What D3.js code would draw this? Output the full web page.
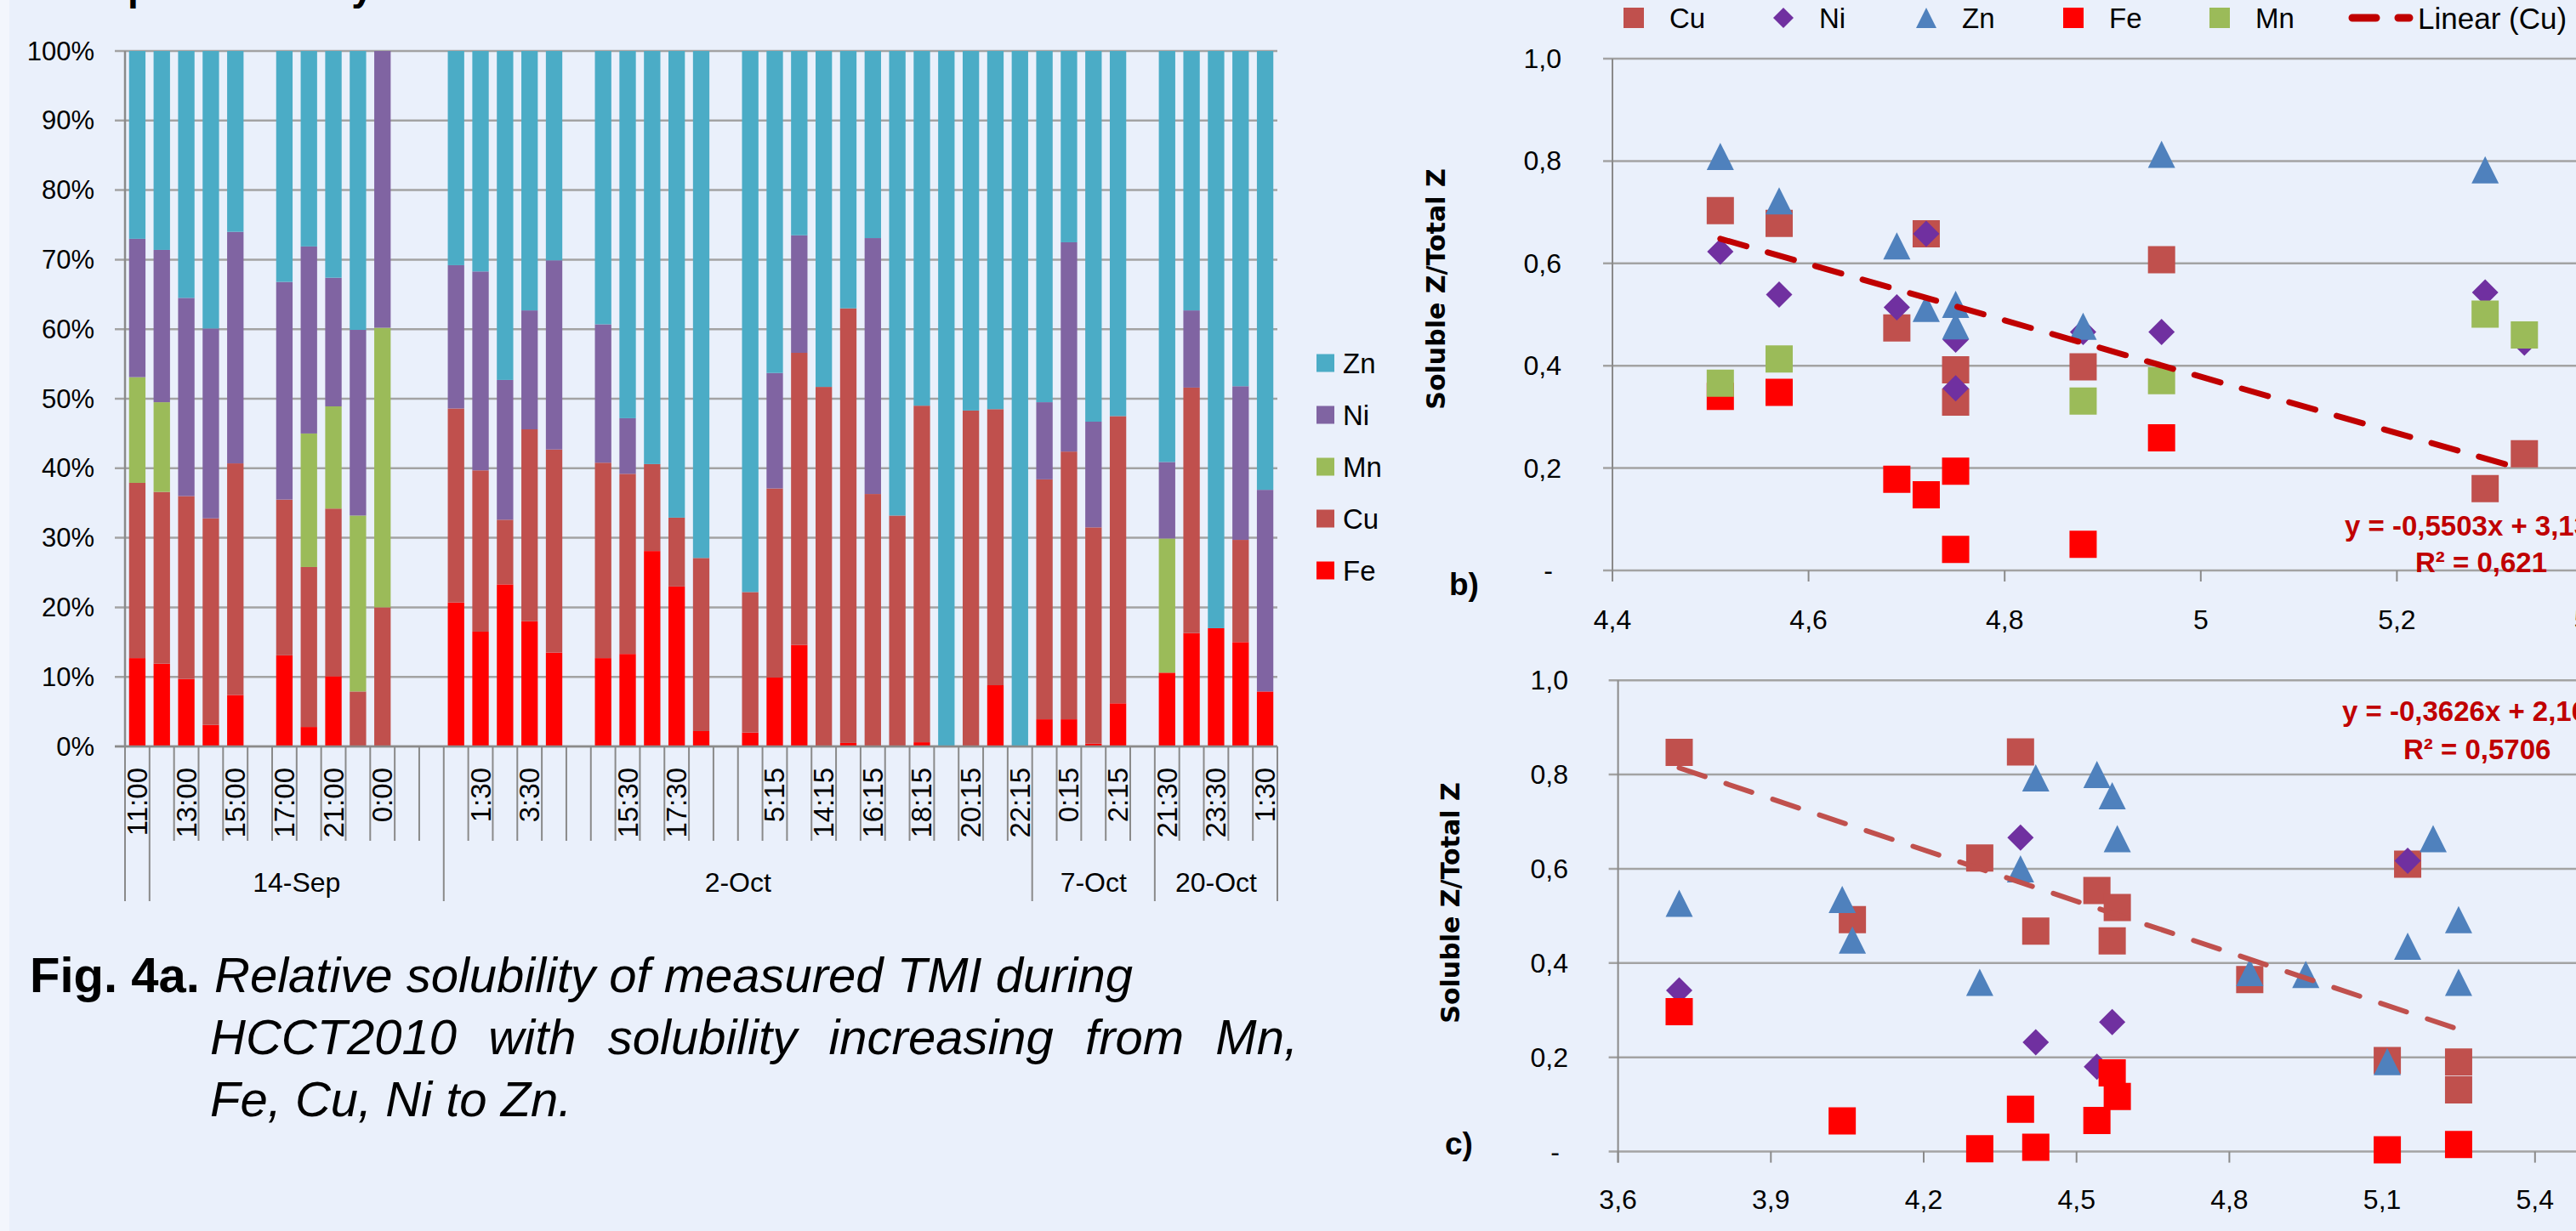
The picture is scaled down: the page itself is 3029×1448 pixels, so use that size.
<!DOCTYPE html>
<html>
<head>
<meta charset="utf-8">
<title>Relative solubility of TMI</title>
<script src="https://cdn.jsdelivr.net/npm/d3@7"></script>
<style>
  html, body { margin: 0; overflow: hidden; background: #eaf0fb; }
  svg { display: block; }
  text { font-family: "Liberation Sans", Arial, sans-serif; fill: #000; }
</style>
</head>
<body>
<svg id="fig" width="3029" height="1448"></svg>
<script>
// ---------- panel a: 100% stacked bars, one entry per category slot (null = empty slot)
var times = ["11:00","","13:00","","15:00","","17:00","","21:00","","0:00","","",
  "","1:30","","3:30","","","","15:30","","17:30","","","","5:15","","14:15","",
  "16:15","","18:15","","20:15","","22:15","","0:15","","2:15","","21:30","","23:30","","1:30"];
var dateLabels = ["", "14-Sep", "2-Oct", "7-Oct", "20-Oct"];
var dateSpans = [1, 12, 24, 5, 5];

var fe = [12.7,11.9,9.7,3.1,7.4,null,13.1,2.8,10.1,0,0,null,null,20.7,16.5,23.3,18.0,13.5,null,
  12.7,13.3,28.1,23.0,2.2,null,2.0,9.9,14.6,0,0.5,0,0,0.6,0,0,8.8,0,3.9,3.9,0.4,6.2,null,
  10.6,16.3,17.0,15.0,7.9];
var cu = [25.2,24.7,26.3,29.7,33.3,null,22.4,23.0,24.1,7.9,20.0,null,null,27.9,23.2,9.3,27.6,29.2,null,
  28.1,25.9,12.5,9.9,24.9,null,20.2,27.2,42.0,51.7,62.5,36.3,33.2,48.4,0,48.3,39.7,0,34.5,38.5,31.1,41.3,null,
  0,35.3,0,14.7,0];
var mn = [15.2,12.9,0,0,0,null,0,19.2,14.7,25.3,40.2,null,null,0,0,0,0,0,null,
  0,0,0,0,0,null,0,0,0,0,0,0,0,0,0,0,0,0,0,0,0,0,null,
  19.3,0,0,0,0];
var ni = [19.9,21.9,28.5,27.3,33.3,null,31.3,26.9,18.5,26.7,39.8,null,null,20.6,28.6,20.1,17.1,27.2,null,
  19.9,8.0,0,0,0,null,0,16.6,16.9,0,0,36.8,0,0,0,0,0,0,11.1,30.1,15.2,0,null,
  11.0,11.1,0,22.1,29.0];
var zn = [27.0,28.6,35.5,39.9,26.0,null,33.2,28.1,32.6,40.1,0,null,null,30.8,31.7,47.3,37.3,30.1,null,
  39.3,52.8,59.4,67.1,72.9,null,77.8,46.3,26.5,48.3,37.0,26.9,66.8,51.0,100,51.7,51.5,100,50.5,27.5,53.3,52.5,null,
  59.1,37.3,83.0,48.2,63.1];

var barKeys = ["Fe", "Cu", "Mn", "Ni", "Zn"];
var barColors = {Fe: "#ff0000", Cu: "#c0504d", Mn: "#9bbb59", Ni: "#8064a2", Zn: "#4bacc6"};

// ---------- panel b: soluble/total vs x
var bCuX = [4.51, 4.57, 4.69, 4.72, 4.75, 4.75, 4.88, 4.96, 5.29, 5.33];
var bCuY = [0.703, 0.678, 0.474, 0.658, 0.392, 0.329, 0.398, 0.607, 0.160, 0.228];
var bNiX = [4.51, 4.57, 4.69, 4.72, 4.75, 4.75, 4.88, 4.96, 5.29, 5.33];
var bNiY = [0.623, 0.539, 0.514, 0.658, 0.451, 0.356, 0.466, 0.466, 0.543, 0.445];
var bZnX = [4.51, 4.57, 4.69, 4.72, 4.75, 4.75, 4.88, 4.96, 5.29];
var bZnY = [0.809, 0.722, 0.634, 0.512, 0.520, 0.478, 0.477, 0.813, 0.783];
var bFeX = [4.51, 4.57, 4.69, 4.72, 4.75, 4.75, 4.88, 4.96];
var bFeY = [0.340, 0.348, 0.178, 0.148, 0.194, 0.041, 0.051, 0.259];
var bMnX = [4.51, 4.57, 4.88, 4.96, 5.29, 5.33];
var bMnY = [0.366, 0.413, 0.331, 0.371, 0.501, 0.460];
var bTrend = [-0.5503, 3.130];

// ---------- panel c
var cCuX = [3.72, 4.06, 4.31, 4.39, 4.42, 4.54, 4.57, 4.58, 4.84, 5.11, 5.15, 5.25, 5.25];
var cCuY = [0.847, 0.492, 0.623, 0.848, 0.468, 0.554, 0.447, 0.518, 0.365, 0.193, 0.610, 0.190, 0.131];
var cNiX = [3.72, 4.39, 4.42, 4.54, 4.57, 5.15];
var cNiY = [0.342, 0.666, 0.232, 0.180, 0.275, 0.617];
var cZnX = [3.72, 4.04, 4.06, 4.31, 4.39, 4.42, 4.54, 4.57, 4.58, 4.84, 4.95, 5.11, 5.15, 5.20, 5.25, 5.25];
var cZnY = [0.527, 0.535, 0.449, 0.359, 0.600, 0.793, 0.800, 0.755, 0.664, 0.380, 0.376, 0.191, 0.436, 0.664, 0.492, 0.359];
var cFeX = [3.72, 4.04, 4.31, 4.39, 4.42, 4.54, 4.57, 4.58, 5.11, 5.25];
var cFeY = [0.297, 0.065, 0.006, 0.090, 0.009, 0.066, 0.167, 0.117, 0.004, 0.015];
var cTrend = [-0.3626, 2.163];

var svg = d3.select("#fig");
var grid = "#a3a3a3", axisCol = "#8a8a8a";

svg.append("rect").attr("width", 3029).attr("height", 1448).attr("fill", "#eaf0fb");
svg.append("rect").attr("width", 11).attr("height", 1448).attr("fill", "#f3f6fd");

// cut-off title above the page edge (only descenders show)
svg.append("text").attr("x", 150).attr("y", 0)
  .attr("font-size", 46).attr("font-weight", "bold").text("pH variability");

// ================= panel a =================
var x = d3.scaleBand().domain(d3.range(times.length)).range([147, 1502]).paddingInner(0.33).paddingOuter(0.165);
var y = d3.scaleLinear().domain([0, 1]).range([878, 60]);

var ga = svg.append("g");
ga.selectAll(".gl").data(y.ticks(10)).enter().append("line")
  .attr("x1", 135).attr("x2", 1502)
  .attr("y1", function (d) { return y(d); }).attr("y2", function (d) { return y(d); })
  .attr("stroke", grid).attr("stroke-width", 2.5);
ga.selectAll(".yl").data(y.ticks(10)).enter().append("text")
  .attr("x", 111).attr("y", function (d) { return y(d); })
  .attr("text-anchor", "end").attr("dominant-baseline", "central")
  .attr("font-size", 31).text(d3.format(".0%"));

var rows = [];
times.forEach(function (t, i) {
  if (fe[i] === null) return;
  rows.push({slot: i, Fe: fe[i], Cu: cu[i], Mn: mn[i], Ni: ni[i], Zn: zn[i]});
});
var series = d3.stack().keys(barKeys).offset(d3.stackOffsetExpand)(rows);

ga.selectAll(".ser").data(series).enter().append("g")
  .attr("fill", function (s) { return barColors[s.key]; })
  .selectAll("rect").data(function (s) { return s; }).enter().append("rect")
  .attr("x", function (d) { return x(d.data.slot); })
  .attr("width", x.bandwidth())
  .attr("y", function (d) { return y(d[1]); })
  .attr("height", function (d) { return y(d[0]) - y(d[1]); });

// axes lines
ga.append("line").attr("x1", 147).attr("x2", 147).attr("y1", 60).attr("y2", 878)
  .attr("stroke", axisCol).attr("stroke-width", 2.5);
ga.append("line").attr("x1", 135).attr("x2", 1502).attr("y1", 878).attr("y2", 878)
  .attr("stroke", axisCol).attr("stroke-width", 2.5);

// category ticks (long ones at date boundaries)
var step = x.step(), x0 = x.range()[0];
var bounds = [0];
dateSpans.forEach(function (n) { bounds.push(bounds[bounds.length - 1] + n); });
ga.selectAll(".ct").data(d3.range(times.length + 1)).enter().append("line")
  .attr("x1", function (i) { return x0 + i * step; })
  .attr("x2", function (i) { return x0 + i * step; })
  .attr("y1", 878)
  .attr("y2", function (i) { return bounds.indexOf(i) >= 0 ? 1060 : 989; })
  .attr("stroke", axisCol).attr("stroke-width", 2);

ga.selectAll(".tl").data(times).enter().append("text")
  .attr("transform", function (t, i) { return "translate(" + (x(i) + x.bandwidth() / 2) + ",903) rotate(-90)"; })
  .attr("text-anchor", "end").attr("dominant-baseline", "central")
  .attr("font-size", 33).text(function (t) { return t; });

ga.selectAll(".dl").data(dateLabels).enter().append("text")
  .attr("x", function (t, i) { return x0 + step * (bounds[i] + bounds[i + 1]) / 2; })
  .attr("y", 1038).attr("text-anchor", "middle").attr("dominant-baseline", "central")
  .attr("font-size", 32).text(function (t) { return t; });

// legend
var legA = barKeys.slice().reverse();
var la = ga.selectAll(".lg").data(legA).enter().append("g")
  .attr("transform", function (k, i) { return "translate(1548," + (427 + i * 61) + ")"; });
la.append("rect").attr("y", -10.5).attr("width", 21).attr("height", 21)
  .attr("fill", function (k) { return barColors[k]; });
la.append("text").attr("x", 31).attr("dominant-baseline", "central")
  .attr("font-size", 33).text(function (k) { return k; });

// caption
var cap = svg.append("g");
cap.append("text").attr("x", 35).attr("y", 1167).attr("font-size", 58).attr("font-weight", "bold").text("Fig. 4a.");
cap.append("text").attr("x", 252).attr("y", 1167).attr("font-size", 58).attr("font-style", "italic")
  .text("Relative solubility of measured TMI during");
var words = ["HCCT2010", "with", "solubility", "increasing", "from", "Mn,"];
var wEls = words.map(function (w) {
  return cap.append("text").attr("y", 1240).attr("font-size", 58).attr("font-style", "italic").text(w);
});
var wTot = d3.sum(wEls, function (e) { return e.node().getComputedTextLength(); });
var gap = (1526 - 247 - wTot) / (words.length - 1), cx = 247;
wEls.forEach(function (e) { e.attr("x", cx); cx += e.node().getComputedTextLength() + gap; });
cap.append("text").attr("x", 247).attr("y", 1313).attr("font-size", 58).attr("font-style", "italic")
  .text("Fe, Cu, Ni to Zn.");

// ================= scatter panels =================
var colCu = "#c0504d", colNi = "#7030a0", colZn = "#4f81bd", colFe = "#ff0000", colMn = "#9bbb59";

function shapePath(shape, cx, cy, s) {
  var h = s / 2;
  if (shape === "diamond") return "M" + cx + "," + (cy - h) + "L" + (cx + h) + "," + cy + "L" + cx + "," + (cy + h) + "L" + (cx - h) + "," + cy + "Z";
  if (shape === "triangle") return "M" + cx + "," + (cy - h) + "L" + (cx + h) + "," + (cy + h) + "L" + (cx - h) + "," + (cy + h) + "Z";
  return "M" + (cx - h) + "," + (cy - h) + "h" + s + "v" + s + "h" + (-s) + "Z";
}
function xFmt(d) { return String(+d.toFixed(1)).replace(".", ","); }
function yFmt(d) { return d === 0 ? "-" : d.toFixed(1).replace(".", ","); }

function scatterPanel(o) {
  var g = svg.append("g");
  var sx = d3.scaleLinear().domain(o.xd).range(o.xr);
  var sy = d3.scaleLinear().domain([0, 1]).range(o.yr);
  var yt = d3.range(0, 1.01, 0.2);
  g.selectAll(".gl").data(yt).enter().append("line")
    .attr("x1", o.xr[0] - 11).attr("x2", 3029)
    .attr("y1", function (d) { return sy(d); }).attr("y2", function (d) { return sy(d); })
    .attr("stroke", grid).attr("stroke-width", 2.5);
  g.append("line").attr("x1", o.xr[0]).attr("x2", o.xr[0]).attr("y1", o.yr[1]).attr("y2", o.yr[0] + 13)
    .attr("stroke", axisCol).attr("stroke-width", 2);
  g.selectAll(".yl").data(yt).enter().append("text")
    .attr("x", function (d) { return d === 0 ? o.ylx - 10 : o.ylx; })
    .attr("y", function (d) { return sy(d); })
    .attr("text-anchor", "end").attr("dominant-baseline", "central").attr("font-size", 32)
    .text(yFmt);
  var xt = d3.range(o.xd[0], o.xd[1] + 1e-6, o.xs);
  g.selectAll(".xt").data(xt).enter().append("line")
    .attr("x1", function (d) { return sx(d); }).attr("x2", function (d) { return sx(d); })
    .attr("y1", o.yr[0]).attr("y2", o.yr[0] + 13)
    .attr("stroke", axisCol).attr("stroke-width", 2);
  g.selectAll(".xl").data(xt).enter().append("text")
    .attr("x", function (d) { return sx(d); }).attr("y", o.xly)
    .attr("text-anchor", "middle").attr("dominant-baseline", "central").attr("font-size", 32)
    .text(xFmt);
  o.sets.forEach(function (st) {
    g.append("g").attr("fill", st[3]).selectAll("path").data(st[0]).enter().append("path")
      .attr("d", function (v, i) { return shapePath(st[2], sx(v), sy(st[1][i]), st[2] === "diamond" ? 31 : 32); });
  });
  var tx = d3.extent(o.trendX);
  g.append("line")
    .attr("x1", sx(tx[0])).attr("y1", sy(o.trend[0] * tx[0] + o.trend[1]))
    .attr("x2", sx(tx[1])).attr("y2", sy(o.trend[0] * tx[1] + o.trend[1]))
    .attr("stroke", o.tcol).attr("stroke-width", o.tw).attr("stroke-dasharray", "32 26")
    .attr("stroke-linecap", "round");
  g.append("text").attr("transform", "translate(" + o.title[0] + "," + o.title[1] + ") rotate(-90)")
    .attr("text-anchor", "middle").attr("dominant-baseline", "central")
    .style("font-family", "'DejaVu Sans', Verdana, sans-serif").attr("font-weight", "bold").attr("font-size", 30)
    .text("Soluble Z/Total Z");
  g.append("text").attr("x", o.tag[0]).attr("y", o.tag[1]).attr("font-weight", "bold").attr("font-size", 37).text(o.tagText);
  g.append("text").attr("x", o.eq[0]).attr("y", o.eq[1]).style("fill", "#c00000")
    .attr("font-weight", "bold").attr("font-size", 33).text(o.eqText);
  g.append("text").attr("x", o.r2[0]).attr("y", o.r2[1]).style("fill", "#c00000")
    .attr("font-weight", "bold").attr("font-size", 33).text(o.r2Text);
}

scatterPanel({
  xd: [4.4, 5.4], xs: 0.2, xr: [1896, 3049], yr: [671, 69], ylx: 1836, xly: 729,
  sets: [[bCuX, bCuY, "square", colCu], [bNiX, bNiY, "diamond", colNi], [bZnX, bZnY, "triangle", colZn],
         [bFeX, bFeY, "square", colFe], [bMnX, bMnY, "square", colMn]],
  trend: bTrend, trendX: bCuX, tcol: "#c00000", tw: 7,
  title: [1688, 340], tag: [1704, 700], tagText: "b)",
  eq: [2757, 630], eqText: "y = -0,5503x + 3,1302", r2: [2840, 673], r2Text: "R\u00b2 = 0,621"
});
scatterPanel({
  xd: [3.6, 5.7], xs: 0.3, xr: [1902.6, 3160.5], yr: [1354.6, 800.2], ylx: 1844, xly: 1411,
  sets: [[cCuX, cCuY, "square", colCu], [cNiX, cNiY, "diamond", colNi], [cZnX, cZnY, "triangle", colZn],
         [cFeX, cFeY, "square", colFe]],
  trend: cTrend, trendX: cCuX, tcol: "#c0504d", tw: 6,
  title: [1705, 1062], tag: [1699, 1358], tagText: "c)",
  eq: [2754, 848], eqText: "y = -0,3626x + 2,1633", r2: [2826, 893], r2Text: "R\u00b2 = 0,5706"
});

// legend for the scatter panels
var legB = [["Cu", "square", colCu, 1921], ["Ni", "diamond", colNi, 2097], ["Zn", "triangle", colZn, 2265],
            ["Fe", "square", colFe, 2438], ["Mn", "square", colMn, 2610]];
var lb = svg.append("g");
legB.forEach(function (l) {
  lb.append("path").attr("d", shapePath(l[1], l[3], 21, 24)).attr("fill", l[2]);
  lb.append("text").attr("x", l[3] + 42).attr("y", 21).attr("dominant-baseline", "central")
    .attr("font-size", 33).text(l[0]);
});
lb.append("line").attr("x1", 2766).attr("x2", 2833).attr("y1", 21).attr("y2", 21)
  .attr("stroke", "#c00000").attr("stroke-width", 9).attr("stroke-dasharray", "28 26").attr("stroke-linecap", "round");
lb.append("text").attr("x", 2843).attr("y", 21).attr("dominant-baseline", "central")
  .attr("font-size", 35).text("Linear (Cu)");
</script>
</body>
</html>
